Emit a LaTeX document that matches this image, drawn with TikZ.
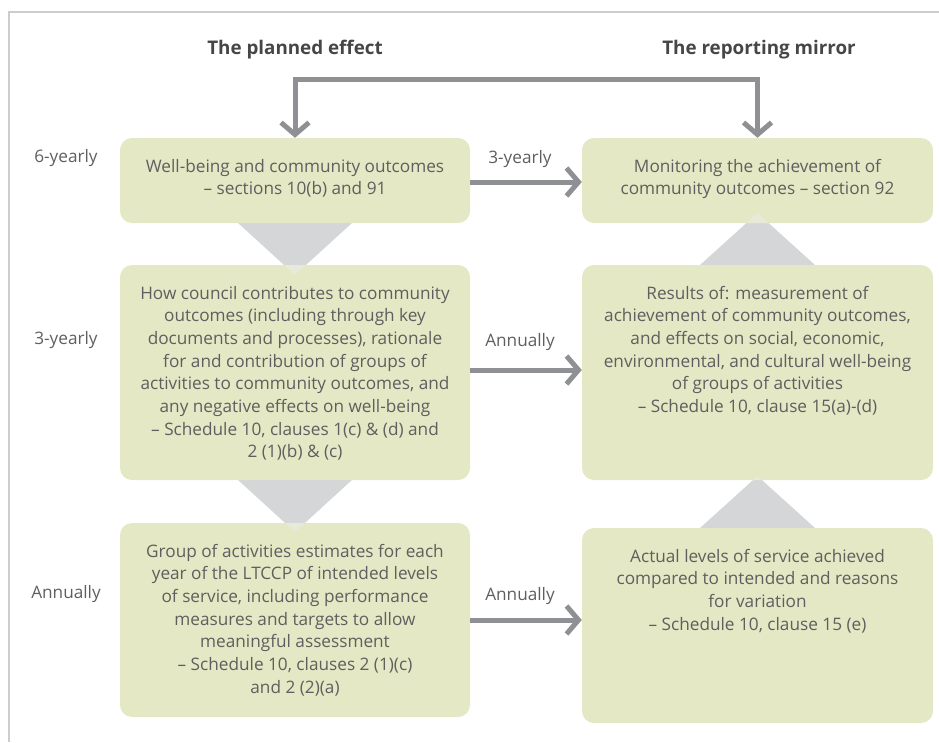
\documentclass[tikz,border=0pt]{standalone}
\usepackage{fontspec}
\setmainfont{Open Sans}
\usetikzlibrary{arrows.meta,positioning}
\definecolor{boxgreen}{RGB}{228,232,196}
\definecolor{trigray}{RGB}{213,214,216}
\definecolor{tripale}{RGB}{231,234,216}
\definecolor{arrowgray}{RGB}{143,144,148}
\definecolor{textgray}{RGB}{95,95,95}
\definecolor{headgray}{RGB}{70,70,70}
\definecolor{framegray}{RGB}{205,205,205}

\begin{document}
\begin{tikzpicture}[x=1pt,y=-1pt,
    panel/.style={fill=boxgreen, rounded corners=12pt, inner sep=0pt, minimum width=350pt},
    blurb/.style={text=textgray, align=center, inner sep=0pt, font=\fontsize{17.2}{22.7}\selectfont},
    period/.style={text=textgray, inner sep=0pt, font=\fontsize{17.2}{22.7}\selectfont},
    heading/.style={text=headgray, font=\fontsize{18.8}{22}\selectfont\bfseries},
    flow/.style={draw=arrowgray, line width=5pt, -{Straight Barb[length=12pt,width=28pt]}},
    wedge/.style={fill=trigray}
]

\useasboundingbox (0,0) rectangle (939,742);

% Frame
\draw[framegray, line width=1.5pt] (9,742) -- (9,12) -- (939,12);

% Wedges between rows
\fill[wedge] (238,223) -- (352,223) -- (295,275) -- cycle;
\fill[wedge] (238,480) -- (352,480) -- (295,532) -- cycle;
\fill[wedge] (700,265) -- (815,265) -- (757.5,213) -- cycle;
\fill[wedge] (700,528) -- (815,528) -- (757.5,476) -- cycle;

% Planned effect column
\node[panel, minimum height=85pt] (L1) at (295,180.5) {};
\node[panel, minimum height=215pt] (L2) at (295,372.5) {};
\node[panel, minimum height=194pt] (L3) at (295,620) {};

% Reporting mirror column
\node[panel, minimum width=351pt, minimum height=85pt] (R1) at (757.5,180.5) {};
\node[panel, minimum width=351pt, minimum height=215pt] (R2) at (757.5,372.5) {};
\node[panel, minimum width=351pt, minimum height=195pt] (R3) at (757.5,625.5) {};

% Wedge tips showing through
\fill[tripale] (284,265) -- (306,265) -- (295,275) -- cycle;
\fill[tripale] (285,523) -- (305,523) -- (295,532) -- cycle;
\fill[tripale] (746.5,223) -- (768.5,223) -- (757.5,213) -- cycle;
\fill[tripale] (753,480) -- (762,480) -- (757.5,476) -- cycle;

% Box texts
\node[blurb, below=21pt of L1.north] {Well-being and community outcomes\\
    -- sections 10(b) and 91};
\node[blurb, below=21pt of L2.north] {How council contributes to community\\
    outcomes (including through key\\
    documents and processes), rationale\\
    for and contribution of groups of\\
    activities to community outcomes, and\\
    any negative effects on well-being\\
    -- Schedule 10, clauses 1(c) \& (d) and\\
    2 (1)(b) \& (c)};
\node[blurb, below=21pt of L3.north] {Group of activities estimates for each\\
    year of the LTCCP of intended levels\\
    of service, including performance\\
    measures and targets to allow\\
    meaningful assessment\\
    -- Schedule 10, clauses 2 (1)(c)\\
    and 2 (2)(a)};
\node[blurb, below=21pt of R1.north] {Monitoring the achievement of\\
    community outcomes -- section 92};
\node[blurb, below=21pt of R2.north] {Results of: measurement of\\
    achievement of community outcomes,\\
    and effects on social, economic,\\
    environmental, and cultural well-being\\
    of groups of activities\\
    -- Schedule 10, clause 15(a)-(d)};
\node[blurb, below=21pt of R3.north] {Actual levels of service achieved\\
    compared to intended and reasons\\
    for variation\\
    -- Schedule 10, clause 15 (e)};

% Headings
\node[heading] (plan) at (295,50) {The planned effect};
\node[heading] (mirror) at (759,50) {The reporting mirror};

% Row periods
\node[period] (p1) at (66,158) {6-yearly};
\node[period] (p2) at (66,340) {3-yearly};
\node[period] (p3) at (66,594) {Annually};

% Arrows
\draw[flow, {Straight Barb[length=12pt,width=28pt]}-{Straight Barb[length=12pt,width=28pt]}]
    (L1.north) -- ++(0,-58) -| (R1.north);
\draw[flow] ([yshift=-1.5pt]L1.east) -- node[period, midway, above=12pt, xshift=-6pt] {3-yearly} ([yshift=-1.5pt]R1.west);
\draw[flow] ([yshift=2.5pt]L2.east) -- node[period, midway, above=17pt, xshift=-6pt] {Annually} ([yshift=2.5pt]R2.west);
\draw[flow] (L3.east) -- node[period, midway, above=13pt, xshift=-6pt] {Annually} (L3.east -| R3.west);

\end{tikzpicture}
\end{document}
